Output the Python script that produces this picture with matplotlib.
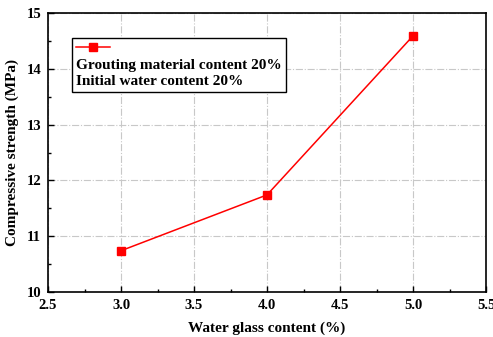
import matplotlib
matplotlib.use("Agg")
import matplotlib.pyplot as plt
from matplotlib.ticker import MultipleLocator

plt.rcParams['font.family'] = ['Liberation Serif', 'DejaVu Serif']
plt.rcParams['font.weight'] = 'bold'

# data
water_glass = [3.0, 4.0, 5.0]
strength = [10.74, 11.74, 14.59]
legend_lines = ["Grouting material content 20%", "Initial water content 20%"]

fig = plt.figure(figsize=(4.93, 3.37), dpi=100)
ax = fig.add_axes([48 / 493, 45 / 337, 438 / 493, 279 / 337])

line, = ax.plot(water_glass, strength, color='red', lw=1.1, marker='s',
                markersize=5.5, label=' ')

ax.set_xlim(2.5, 5.5)
ax.set_ylim(10, 15)
ax.xaxis.set_major_locator(MultipleLocator(0.5))
ax.xaxis.set_minor_locator(MultipleLocator(0.25))
ax.yaxis.set_major_locator(MultipleLocator(1))
ax.yaxis.set_minor_locator(MultipleLocator(0.5))
ax.tick_params(which='both', direction='in', labelsize=10.5, width=1)
ax.tick_params(which='major', length=4, pad=5)
ax.tick_params(which='minor', length=2.5)
for lab in ax.get_xticklabels() + ax.get_yticklabels():
    lab.set_fontweight('bold')
for s in ax.spines.values():
    s.set_linewidth(1.2)

ax.grid(True, which='major', color='#c8c8c8', linestyle='-.', linewidth=0.8)

ax.set_xlabel('Water glass content (%)', fontsize=11, fontweight='bold', labelpad=7)
ax.set_ylabel('Compressive strength (MPa)', fontsize=11, fontweight='bold', labelpad=5)

leg = ax.legend(handles=[line], loc='upper left', bbox_to_anchor=(0.055, 0.91),
                fancybox=False, edgecolor='black', framealpha=1,
                handlelength=2.4, borderpad=0.3, borderaxespad=0,
                title='\n'.join(legend_lines), alignment='left',
                title_fontproperties={'size': 11, 'weight': 'bold'})
leg.get_frame().set_linewidth(1.0)
leg.get_title().set_linespacing(1.25)
# put the handle row above the text block
leg._legend_box._children = leg._legend_box._children[::-1]
leg._legend_box.sep = 3

fig.savefig('out.png', dpi=100)
